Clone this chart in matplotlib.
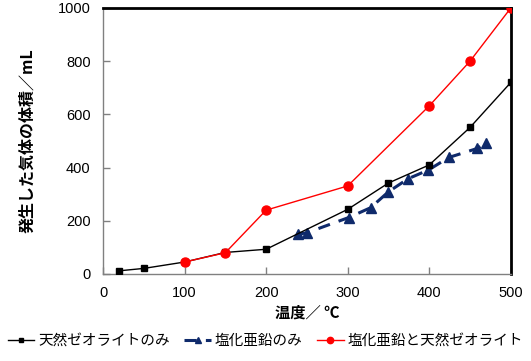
import matplotlib
matplotlib.use('Agg')
import matplotlib.pyplot as plt

plt.rcParams['font.family'] = ['Noto Sans CJK JP', 'DejaVu Sans']

# 天然ゼオライトのみ
x_zeo = [20, 50, 100, 150, 200, 300, 350, 400, 450, 500]
y_zeo = [12, 21, 45, 81, 93, 243, 342, 410, 551, 720]
# 塩化亜鉛のみ
x_zn = [239, 250, 301, 328, 350, 374, 399, 424, 459, 469]
y_zn = [149, 155, 212, 249, 309, 358, 391, 438, 472, 491]
# 塩化亜鉛と天然ゼオライト
x_mix = [100, 150, 200, 300, 400, 450, 500]
y_mix = [45, 80, 240, 331, 632, 800, 1000]

labels = ['天然ゼオライトのみ', '塩化亜鉛のみ', '塩化亜鉛と天然ゼオライト']
xticks = [0, 100, 200, 300, 400, 500]
yticks = [0, 200, 400, 600, 800, 1000]

fig = plt.figure(figsize=(5.31, 3.61), dpi=100)
ax = fig.add_axes([0.194, 0.241, 0.768, 0.737])

l1, = ax.plot(x_zeo, y_zeo, '-s', color='black', lw=1, ms=5, label=labels[0], zorder=3)
l2, = ax.plot(x_zn, y_zn, '--^', color='#0f2a6b', lw=2.2, ms=7, dashes=(4, 3),
              label=labels[1], zorder=2)
l3, = ax.plot(x_mix, y_mix, '-o', color='#ff0000', lw=1, ms=6.5, label=labels[2], zorder=4)

ax.set_xlim(0, 500)
ax.set_ylim(0, 1000)
ax.set_xticks(xticks)
ax.set_yticks(yticks)
ax.tick_params(direction='in', length=5, width=1, color='#808080', labelsize=10.5, pad=9,
               labelfontfamily='Liberation Sans')
for s in ['left', 'bottom']:
    ax.spines[s].set_color('#808080')
    ax.spines[s].set_linewidth(1)
for s in ['top', 'right']:
    ax.spines[s].set_color('black')
    ax.spines[s].set_linewidth(2)

ax.set_xlabel('温度／ ℃', fontsize=11, fontweight='bold', labelpad=3)
ax.set_ylabel('発生した気体の体積／mL', fontsize=11.5, fontweight='bold', labelpad=16)

fig.legend(handles=[l1, l2, l3], loc='lower center', bbox_to_anchor=(0.5, 0.0),
           ncol=3, frameon=False, fontsize=10.5, handlelength=1.8, handletextpad=0.3,
           columnspacing=1.0, markerscale=0.7)

fig.savefig('out.png', dpi=100)
